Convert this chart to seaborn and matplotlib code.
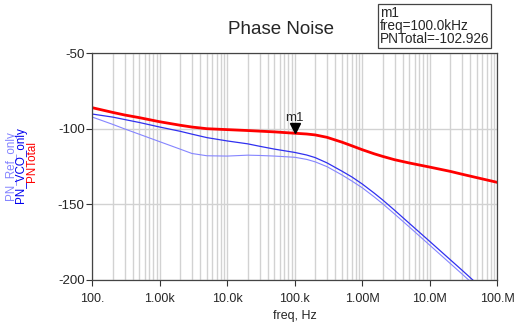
import numpy as np
import pandas as pd
import matplotlib
matplotlib.use("Agg")
import matplotlib.pyplot as plt
import matplotlib.ticker as mticker
from matplotlib.transforms import offset_copy
import seaborn as sns

# donnees
freq = [1e2, 2e2, 3e2, 5e2, 1e3, 2e3, 3e3, 5e3, 1e4, 2e4, 3e4, 5e4,
        1e5, 1.5e5, 2e5, 3e5, 5e5, 7e5, 1e6, 1.5e6, 2e6, 3e6, 5e6, 1e7, 2e7, 3e7, 5e7, 1e8]
pn_total = [-86.0, -89.1, -90.8, -92.6, -95.3, -97.6, -98.8, -99.9, -100.5, -101.1, -101.5, -102.0,
            -102.9, -103.4, -104.0, -105.6, -108.8, -111.2, -113.8, -116.5, -118.2, -120.4, -122.6,
            -125.3, -128.1, -130.0, -132.3, -135.4]
pn_vco = [-90.2, -92.2, -93.8, -95.8, -98.8, -101.6, -103.5, -105.8, -108.0, -109.9, -111.5, -113.4,
          -115.6, -117.3, -119.0, -122.5, -128.0, -131.8, -136.5, -142.5, -147.0, -153.8, -162.6,
          -174.5, -186.5, -193.5, -202.5, -214.5]
pn_ref = [-92.2, -97.0, -100.0, -103.6, -108.5, -113.4, -116.3, -117.8, -118.0, -117.4, -117.6, -118.0,
          -118.8, -120.2, -121.8, -125.0, -130.5, -134.5, -139.0, -145.0, -149.5, -156.3, -165.0,
          -177.0, -189.0, -196.0, -205.0, -217.0]

xticks = [1e2, 1e3, 1e4, 1e5, 1e6, 1e7, 1e8]
xlabels = ["100.", "1.00k", "10.0k", "100.k", "1.00M", "10.0M", "100.M"]
yticks = [-50, -100, -150, -200]

df = pd.DataFrame({"freq": freq, "PNTotal": pn_total, "PN_VCO_only": pn_vco, "PN_Ref_only": pn_ref})

sns.set_style("white")
plt.rcParams["font.family"] = ["Liberation Sans", "DejaVu Sans"]
plt.rcParams["axes.unicode_minus"] = False

fig = plt.figure(figsize=(5.19, 3.24), dpi=100)
ax = fig.add_axes([92.3 / 519, 1 - 280 / 324, (497.3 - 92.3) / 519, (280 - 53.3) / 324])

sns.lineplot(data=df, x="freq", y="PN_Ref_only", color="#8585ff", lw=0.8, ax=ax)
sns.lineplot(data=df, x="freq", y="PN_VCO_only", color="#3030f0", lw=0.9, ax=ax)
sns.lineplot(data=df, x="freq", y="PNTotal", color="#ff0000", lw=2.0, ax=ax)

ax.set_xscale("log")
ax.set_xlim(1e2, 1e8)
ax.set_ylim(-200, -50)
ax.set_xticks(xticks)
ax.set_xticklabels(xlabels)
ax.xaxis.set_minor_locator(mticker.LogLocator(base=10, subs=np.arange(2, 10)))
ax.xaxis.set_minor_formatter(mticker.NullFormatter())
ax.set_yticks(yticks)
ax.yaxis.set_minor_locator(mticker.MultipleLocator(10))

ax.grid(True, which="both", axis="x", color="#d2d2d2", lw=1.0)
ax.grid(True, which="major", axis="y", color="#d2d2d2", lw=1.0)
ax.tick_params(axis="both", which="major", direction="out", length=4.5, width=0.8,
               color="#333333", pad=1)
ax.tick_params(axis="y", which="major", labelsize=9.6)
ax.tick_params(axis="x", which="major", labelsize=9, pad=5)
ax.tick_params(axis="x", which="minor", length=0)
ax.tick_params(axis="y", which="minor", direction="out", length=4.5, width=0.8, color="#333333")
ax.yaxis.set_tick_params(left=True)
ax.xaxis.set_tick_params(bottom=True)
for s in ax.spines.values():
    s.set_color("#444444")
    s.set_linewidth(0.9)

ax.set_xlabel("freq, Hz", fontsize=9, labelpad=3.5)
ax.set_ylabel("")
fig.text(281 / 519, 1 - 30 / 324, "Phase Noise", fontsize=13.5, ha="center", va="center")

# marqueur m1
y_m1 = -102.926
ax.plot(1e5, y_m1, marker="v", ms=7, color="black",
        transform=offset_copy(ax.transData, fig=fig, y=4, units="points"))
ax.annotate("m1", xy=(1e5, y_m1), xytext=(0, 7), textcoords="offset points",
            ha="center", va="bottom", fontsize=9.5)

fig.text(380 / 519, 1 - 6 / 324, "m1\nfreq=100.0kHz\nPNTotal=-102.926",
         ha="left", va="top", fontsize=9.8, linespacing=0.92,
         bbox=dict(boxstyle="square,pad=0.12", fc="white", ec="#444444", lw=0.9))

# legende verticale a gauche
fig.text(10.5 / 519, 1 - 166 / 324, "PN_Ref_only", color="#8585ff", rotation=90,
         ha="center", va="center", fontsize=8.4)
fig.text(21.5 / 519, 1 - 165 / 324, "PN_VCO_only", color="#0000ee", rotation=90,
         ha="center", va="center", fontsize=8.4)
fig.text(32.5 / 519, 1 - 161 / 324, "PNTotal", color="#ff0000", rotation=90,
         ha="center", va="center", fontsize=8.4)

fig.savefig("out.png", dpi=100)
